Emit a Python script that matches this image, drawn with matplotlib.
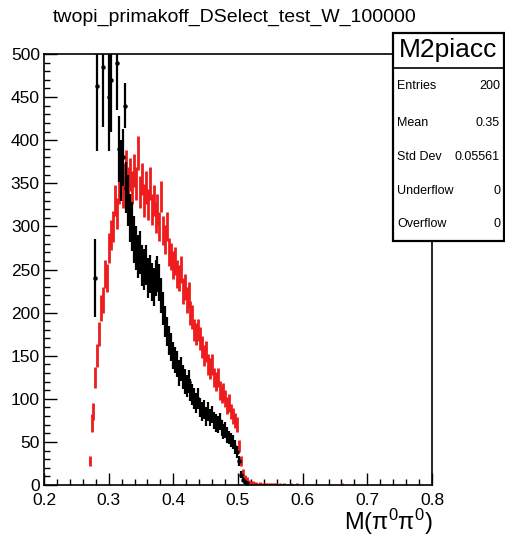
import numpy as np
import matplotlib
matplotlib.use("Agg")
import matplotlib.pyplot as plt
from matplotlib.ticker import MultipleLocator

plt.rcParams['font.family'] = ['Liberation Sans', 'DejaVu Sans']
plt.rcParams['mathtext.fontset'] = 'custom'
plt.rcParams['mathtext.rm'] = 'Liberation Sans'
plt.rcParams['mathtext.it'] = 'Liberation Sans'

# histogram binning: 200 bins from 0.2 to 0.8
x_lo = 0.2
bin_w = 0.003

# black histogram (first filled bin index 26), 0 = empty bin
black_first = 26
black_vals = [240, 463, 0, 0, 485, 0, 0, 450, 470, 0,
              0, 490, 390, 365, 380, 440, 345, 330, 310, 300,
              285, 275, 265, 270, 255, 250, 255, 240, 245, 235,
              230, 240, 245, 235, 220, 205, 190, 178, 168, 160,
              150, 145, 140, 130, 135, 125, 120, 115, 120, 110,
              105, 100, 95, 100, 90, 85, 88, 80, 85, 78,
              82, 75, 72, 70, 74, 66, 62, 64, 58, 55,
              52, 50, 44, 38, 28, 12, 6, 3, 2]
black_errs = [45, 75, 0, 0, 70, 0, 0, 62, 60, 0,
              0, 55, 38, 35, 33, 26, 30, 30, 28, 28,
              27, 26, 25, 25, 24, 24, 23, 23, 22, 22,
              22, 21, 21, 21, 20, 19, 18, 17, 17, 16,
              16, 15, 15, 15, 14, 14, 14, 13, 13, 13,
              12, 12, 12, 12, 11, 11, 11, 11, 11, 10,
              10, 10, 10, 10, 10, 9, 9, 9, 9, 8,
              8, 8, 8, 7, 6, 4, 3, 2, 1]

# red histogram (first filled bin index 23)
red_first = 23
red_vals = [28, 72, 85, 125, 150, 175, 205, 215, 245, 240,
            275, 290, 300, 330, 315, 345, 365, 340, 355, 370,
            350, 360, 345, 365, 350, 385, 340, 355, 330, 345,
            325, 350, 320, 330, 310, 320, 300, 335, 295, 285,
            300, 270, 265, 255, 260, 245, 240, 250, 225, 230,
            215, 220, 200, 195, 180, 175, 180, 170, 160, 150,
            155, 140, 135, 140, 125, 120, 125, 110, 105, 108,
            100, 92, 95, 85, 80, 75, 70, 45, 28, 15,
            9, 6, 4, 3, 3, 2, 2, 1.5, 2, 1.5,
            1, 1.5, 1, 1, 1.5, 1, 1, 0.8, 1, 0.8,
            1, 0.8, 0.8, 0.8, 1, 0.8, 0.8, 1]
red_errs = [6, 10, 10, 12, 13, 14, 15, 15, 16, 16,
            17, 17, 18, 18, 18, 19, 19, 19, 19, 19,
            19, 19, 19, 19, 19, 20, 19, 19, 19, 19,
            18, 19, 18, 18, 18, 18, 17, 18, 17, 17,
            17, 16, 16, 16, 16, 16, 15, 16, 15, 15,
            15, 15, 14, 14, 13, 13, 13, 13, 13, 12,
            12, 12, 12, 12, 11, 11, 11, 11, 10, 10,
            10, 10, 10, 9, 9, 9, 9, 7, 6, 4,
            3, 3, 2, 2, 2, 1.5, 1.5, 1.2, 1.5, 1.2,
            1, 1.2, 1, 1, 1.2, 1, 1, 0.9, 1, 0.9,
            1, 0.9, 0.9, 0.9, 1, 0.9, 0.9, 1]
red_extra_bin = 153
red_extra_val = 1
red_extra_err = 1

title = "twopi_primakoff_DSelect_test_W_100000"
stats_name = "M2piacc"
stats_rows = [("Entries", "200"), ("Mean", "0.35"), ("Std Dev", "0.05561"),
              ("Underflow", "0"), ("Overflow", "0")]


def centers(first, n):
    return x_lo + bin_w * (np.arange(first, first + n) + 0.5)


fig = plt.figure(figsize=(5.05, 5.48), dpi=100)
W, H = 505, 548
ax = fig.add_axes([44 / W, 1 - 485 / H, (432 - 44) / W, (485 - 54) / H])

xb = centers(black_first, len(black_vals))
yb = np.array(black_vals, dtype=float)
eb = np.array(black_errs, dtype=float)
filled = yb > 0   # empty bins are not drawn
xr = centers(red_first, len(red_vals))
xr = np.append(xr, x_lo + bin_w * (red_extra_bin + 0.5))
yr = np.append(red_vals, red_extra_val)
er = np.append(red_errs, red_extra_err)

ax.errorbar(xb[filled], yb[filled], yerr=eb[filled], fmt='o', color='black',
            markersize=2.2, elinewidth=1.6, capsize=0, zorder=3)
ax.errorbar(xr, yr, yerr=er, fmt='none', ecolor='#ee1c1c',
            elinewidth=2.0, capsize=0, zorder=2)

ax.set_xlim(0.2, 0.8)
ax.set_ylim(0, 500)
ax.xaxis.set_major_locator(MultipleLocator(0.1))
ax.xaxis.set_minor_locator(MultipleLocator(0.02))
ax.yaxis.set_major_locator(MultipleLocator(50))
ax.yaxis.set_minor_locator(MultipleLocator(10))
ax.tick_params(which='both', direction='in', top=False, right=False,
               labelsize=12.5, width=1)
ax.tick_params(which='major', length=9)
ax.tick_params(which='minor', length=4.5)
ax.tick_params(axis='x', pad=6)
ax.tick_params(axis='y', pad=3)
ax.set_xticks(np.round(np.arange(0.2, 0.81, 0.1), 1))
ax.set_xticklabels(["0.2", "0.3", "0.4", "0.5", "0.6", "0.7", "0.8"])
for s in ax.spines.values():
    s.set_linewidth(1.2)

fig.text(235 / W, 1 - 17 / H, title, ha='center', va='center', fontsize=14)
fig.text(433 / W, 1 - 522 / H, r"$\mathrm{M(\pi^{0}\pi^{0})}$", ha='right',
         va='center', fontsize=17)

# stats box
bx0, bx1, by0, by1 = 393 / W, 504 / W, 1 - 241 / H, 1 - 33 / H
hy = 1 - 68 / H
box = plt.Rectangle((bx0, by0), bx1 - bx0, by1 - by0, transform=fig.transFigure,
                    facecolor='white', edgecolor='black', linewidth=1.6, zorder=5)
fig.add_artist(box)
fig.add_artist(plt.Line2D([bx0, bx1], [hy, hy], transform=fig.transFigure,
                          color='black', linewidth=1.2, zorder=6))
fig.text((bx0 + bx1) / 2, (hy + by1) / 2, stats_name, ha='center', va='center',
         fontsize=19, zorder=7)
row_y = [86, 123, 157, 191, 224]
for (k, v), yy in zip(stats_rows, row_y):
    fig.text(397 / W, 1 - yy / H, k, ha='left', va='center', fontsize=9, zorder=7)
    fig.text(500 / W, 1 - yy / H, v, ha='right', va='center', fontsize=9, zorder=7)

fig.savefig("out.png", dpi=100)
